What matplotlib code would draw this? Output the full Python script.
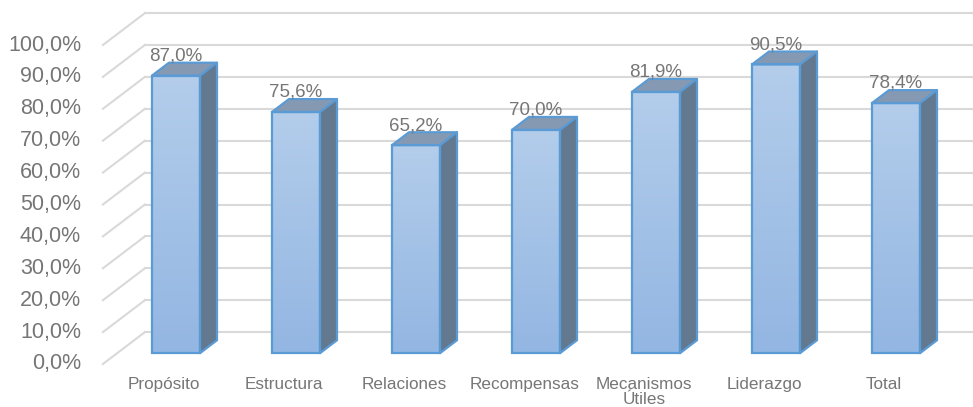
import numpy as np
import matplotlib.pyplot as plt
from matplotlib.patches import Polygon
from matplotlib.colors import to_rgb

categories = ['Propósito', 'Estructura', 'Relaciones', 'Recompensas',
              'Mecanismos\nÚtiles', 'Liderazgo', 'Total']
values = [87.0, 75.6, 65.2, 70.0, 81.9, 90.5, 78.4]
yticks = [0, 10, 20, 30, 40, 50, 60, 70, 80, 90, 100]

plt.rcParams['font.family'] = ['Liberation Sans', 'DejaVu Sans']
text_col = '#767676'
grid_col = '#d9d9d9'
edge_col = '#5b9bd5'

## oblique "3d" projection: full depth moves right by DX (categories) and up by DY (%)
DX, DY = 0.35, 10.0
f0, f1 = 0.34, 0.745     # bar front / back depth
w = 0.4
xl = -0.49               # left edge of the front wall

fig = plt.figure(figsize=(9.73, 4.07), dpi=100)
ax = fig.add_axes([0, 0, 1, 1])
ax.axis('off')
x_min, x_max = (0 - 161.7) / 120, (973 - 161.7) / 120
y_min, y_max = (364 - 407) / 3.19, 364 / 3.19

## back wall grid + side wall diagonals
for t in yticks:
    ax.plot([xl + DX, x_max + 1], [t + DY, t + DY], color=grid_col, lw=1.5, zorder=1)
    ax.plot([xl, xl + DX], [t, t + DY], color=grid_col, lw=1.5, zorder=1)
    ax.text(-0.6725, t, f"{t:.1f}%".replace('.', ','), ha='right', va='center',
            fontsize=15.5, color=text_col)

x = np.arange(len(categories))
bars = ax.bar(x + f0 * DX, values, width=w, bottom=f0 * DY, facecolor='none',
              edgecolor=edge_col, linewidth=1.6, zorder=5)

ddx, ddy = (f1 - f0) * DX, (f1 - f0) * DY
c_top, c_bot = np.array(to_rgb('#b3cdeb')), np.array(to_rgb('#93b6e2'))
grad = np.linspace(0, 1, 64)[:, None, None] * (c_bot - c_top) + c_top

for b, v, lab in zip(bars, values, categories):
    x0, y0 = b.get_x(), b.get_y()
    top = y0 + b.get_height()
    ax.imshow(grad, extent=(x0, x0 + w, y0, top), aspect='auto',
              interpolation='bilinear', zorder=4)
    ax.add_patch(Polygon([(x0, top), (x0 + w, top), (x0 + w + ddx, top + ddy),
                          (x0 + ddx, top + ddy)], closed=True, facecolor='#8699b2',
                         edgecolor=edge_col, lw=1.6, zorder=4, joinstyle='round'))
    ax.add_patch(Polygon([(x0 + w, y0), (x0 + w + ddx, y0 + ddy), (x0 + w + ddx, top + ddy),
                          (x0 + w, top)], closed=True, facecolor='#62798f',
                         edgecolor=edge_col, lw=1.6, zorder=4, joinstyle='round'))
    ax.text(x0 + w / 2, top + ddy + 2.1, f"{v:.1f}%".replace('.', ','), ha='center',
            va='center', fontsize=13.5, color=text_col, zorder=6)

for i, lab in enumerate(categories):
    ax.text(i + 0.02, -4.0, lab, ha='center', va='top', fontsize=12.3,
            color=text_col, linespacing=1.05)

ax.set_xlim(x_min, x_max)
ax.set_ylim(y_min, y_max)
fig.savefig('out.png', dpi=100)
